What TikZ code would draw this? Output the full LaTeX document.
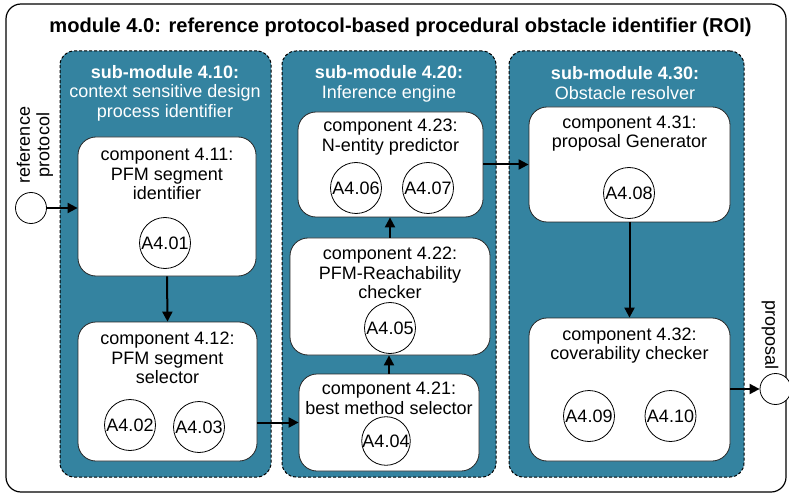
\documentclass[tikz,border=0pt]{standalone}
\usepackage{fontspec}
\setmainfont{Liberation Sans}
\usepackage{tikz}
\usetikzlibrary{arrows.meta}
\definecolor{roiblue}{RGB}{52,131,160}

\begin{document}
\begin{tikzpicture}[x=1pt, y=-1pt, line width=0.8pt,
    every node/.style={font=\fontsize{18}{19.5}\selectfont},
    submodule/.style={draw, dash pattern=on 3pt off 2pt, fill=roiblue, rounded corners=14pt, line width=1pt, inner sep=0pt},
    component/.style={draw=black!85, fill=white, rounded corners=18pt, inner sep=0pt},
    activity/.style={circle, draw, fill=white, minimum size=51pt, inner sep=0pt},
    endpoint/.style={circle, draw, fill=white, minimum size=31pt, inner sep=0pt},
    flow/.style={-{Triangle[length=10pt, width=10pt]}, line width=2pt}]

    \useasboundingbox (0,0) rectangle (789,494);

    % Module frame
    \draw[line width=1.2pt, rounded corners=15pt] (6,4) rectangle (786,492);
    \node[font=\fontsize{20.1}{24}\selectfont\bfseries] (title) at (400.5,27) {module 4.0: reference protocol-based procedural obstacle identifier (ROI)};

    % Sub-modules
    \node[submodule, minimum width=211pt, minimum height=426pt] (sm410) at (165.5,264) {};
    \node[submodule, minimum width=214pt, minimum height=426pt] (sm420) at (389,264) {};
    \node[submodule, minimum width=235pt, minimum height=426pt] (sm430) at (626.5,264) {};
    \node[text=white, align=center] (sm410head) at (165,93) {\textbf{sub-module 4.10:}\\context sensitive design\\process identifier};
    \node[text=white, align=center] (sm420head) at (389,84) {\textbf{sub-module 4.20:}\\Inference engine};
    \node[text=white, align=center] (sm430head) at (625,83) {\textbf{sub-module 4.30:}\\Obstacle resolver};

    % Components of 4.10
    \node[component, minimum width=178pt, minimum height=139pt] (c411) at (167,206.5) {};
    \node[align=center] (c411text) at (167,174) {component 4.11:\\PFM segment\\identifier};
    \node[activity] (a401) at (165,243) {A4.01};
    \node[component, minimum width=179pt, minimum height=139pt] (c412) at (167.5,391.5) {};
    \node[align=center] (c412text) at (167.5,358) {component 4.12:\\PFM segment\\selector};
    \node[activity] (a402) at (130,425) {A4.02};
    \node[activity] (a403) at (199,427) {A4.03};

    % Components of 4.20
    \node[component, minimum width=185pt, minimum height=105pt] (c423) at (390.5,164.5) {};
    \node[align=center] (c423text) at (390.5,137) {component 4.23:\\N-entity predictor};
    \node[activity] (a406) at (356,188) {A4.06};
    \node[activity] (a407) at (428,188) {A4.07};
    \node[component, minimum width=200pt, minimum height=117pt] (c422) at (390,296.5) {};
    \node[align=center] (c422text) at (390,273) {component 4.22:\\PFM-Reachability\\checker};
    \node[activity] (a405) at (390,328) {A4.05};
    \node[component, minimum width=180pt, minimum height=97pt] (c421) at (389,422.5) {};
    \node[align=center] (c421text) at (389,398.5) {component 4.21:\\best method selector};
    \node[activity, minimum size=48pt] (a404) at (386,441) {A4.04};

    % Components of 4.30
    \node[component, minimum width=201pt, minimum height=115pt] (c431) at (629.5,164.5) {};
    \node[align=center] (c431text) at (629.5,133.5) {component 4.31:\\proposal Generator};
    \node[activity] (a408) at (629,193) {A4.08};
    \node[component, minimum width=201pt, minimum height=143pt] (c432) at (629.5,389.5) {};
    \node[align=center] (c432text) at (629.5,345.5) {component 4.32:\\coverability checker};
    \node[activity] (a409) at (589,416) {A4.09};
    \node[activity] (a410) at (670.5,416) {A4.10};

    % In and out
    \node[endpoint] (in) at (31,208) {};
    \node[rotate=90, align=center] (inlabel) at (35,145) {reference\\protocol};
    \node[endpoint] (out) at (775.5,389) {};
    \node[rotate=-90] (outlabel) at (770,335) {proposal};

    % Flows
    \draw[flow] (in.east) -- (in.east -| c411.west);
    \draw[flow] (c411.south) -- (c412.north);
    \draw[flow] (c412.east |- c421) -- (c421.west);
    \draw[flow] (c421.north) -- (c421.north |- c422.south);
    \draw[flow] (c422.north) -- (c422.north |- c423.south);
    \draw[flow] (c423.east) -- (c423.east -| c431.west);
    \draw[flow] (c431.south) -- (c432.north);
    \draw[flow] (c432.east |- out) -- (out.west);
\end{tikzpicture}
\end{document}
